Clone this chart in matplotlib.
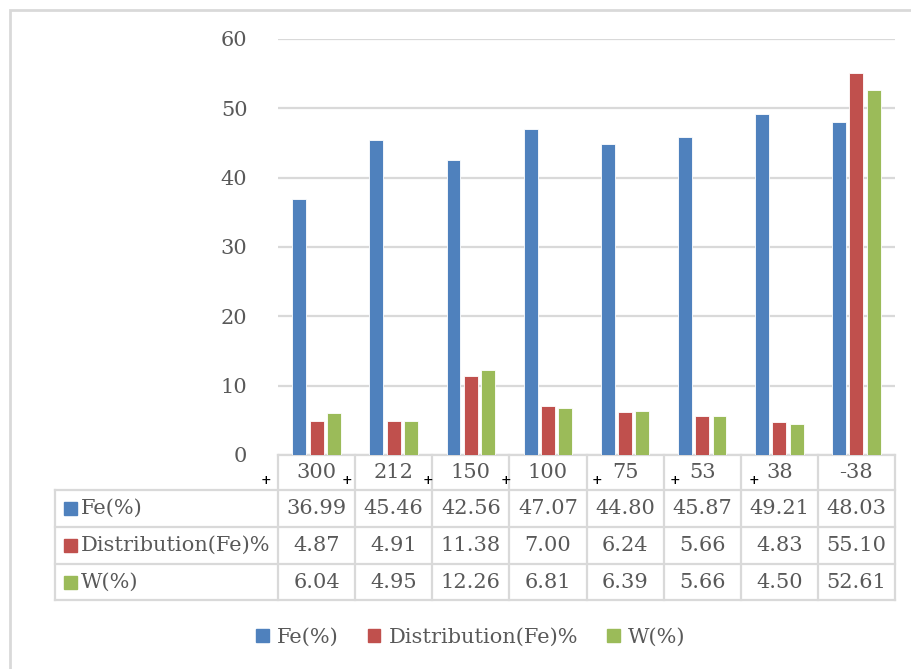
import matplotlib
matplotlib.use("Agg")
import matplotlib.pyplot as plt
from matplotlib.lines import Line2D
from matplotlib.patches import Patch, Rectangle
from matplotlib.transforms import blended_transform_factory
import numpy as np

# sieve fractions (um) and assay values
sizes = ["300", "212", "150", "100", "75", "53", "38", "-38"]
plus_sign = [True, True, True, True, True, True, True, False]
fe = [36.99, 45.46, 42.56, 47.07, 44.80, 45.87, 49.21, 48.03]
dist_fe = [4.87, 4.91, 11.38, 7.00, 6.24, 5.66, 4.83, 55.10]
w = [6.04, 4.95, 12.26, 6.81, 6.39, 5.66, 4.50, 52.61]

series_names = ["Fe(%)", "Distribution(Fe)%", "W(%)"]
series = [fe, dist_fe, w]
colors = ["#4F81BD", "#C0504D", "#9BBB59"]

# where the little "+" sits relative to each column centre
plus_dx = [-0.66, -0.61, -0.56, -0.54, -0.36, -0.35, -0.33, 0]

W, H = 912, 669
grey = "#D9D9D9"
txt = "#595959"
plt.rcParams["font.family"] = ["DejaVu Serif"]
fs = 15


def fx(px):
    return px / W


def fy(py):
    return 1 - py / H


fig = plt.figure(figsize=(W / 100, H / 100), dpi=100)
ax = fig.add_axes([fx(278), fy(455), fx(895 - 278), (455 - 39) / H])

x = np.arange(len(sizes))
bw = 0.18
pitch = 0.225
for k, (vals, c) in enumerate(zip(series, colors)):
    ax.bar(x + (k - 1) * pitch, vals, bw, color=c, edgecolor="white",
           linewidth=0.6, zorder=3)

ax.set_xlim(-0.5, len(sizes) - 0.5)
ax.set_ylim(0, 60)
ax.set_yticks(range(0, 61, 10))
ax.set_xticks([])
ax.yaxis.grid(True, color=grey, linewidth=1.6)
ax.set_axisbelow(True)
ax.tick_params(axis="y", length=0, pad=22, labelsize=fs, labelcolor=txt)
for s in ["top", "right", "left"]:
    ax.spines[s].set_visible(False)
ax.spines["bottom"].set_color(grey)
ax.spines["bottom"].set_linewidth(1.6)

# data table under the plot
tr = blended_transform_factory(ax.transData, fig.transFigure)
row_lines = [490, 527, 564, 600]
for py in row_lines:
    fig.add_artist(Line2D([fx(55), fx(895)], [fy(py), fy(py)], color=grey,
                          lw=1.6, transform=fig.transFigure))
for i in range(len(sizes) + 1):
    fig.add_artist(Line2D([i - 0.5, i - 0.5], [fy(455), fy(600)], color=grey,
                          lw=1.6, transform=tr))
fig.add_artist(Line2D([fx(55), fx(55)], [fy(490), fy(600)], color=grey,
                      lw=1.6, transform=fig.transFigure))

for i, s in enumerate(sizes):
    fig.text(i, fy(472), s, transform=tr, ha="center", va="center",
             fontsize=fs, color=txt)
    if plus_sign[i]:
        fig.text(i + plus_dx[i], fy(481), "+", transform=tr, ha="center",
                 va="center", fontsize=9, color="black", fontweight="bold")

row_centres = [508.5, 545.5, 582]
for r, (name, vals, c) in enumerate(zip(series_names, series, colors)):
    yc = fy(row_centres[r])
    for i, v in enumerate(vals):
        fig.text(i, yc, f"{v:.2f}", transform=tr, ha="center", va="center",
                 fontsize=fs, color=txt)
    fig.add_artist(Rectangle((fx(64), yc - 6.5 / H), 13 / W, 13 / H,
                             color=c, transform=fig.transFigure))
    fig.text(fx(81), yc, name, ha="left", va="center", fontsize=fs, color=txt)

handles = [Patch(color=c, label=n) for n, c in zip(series_names, colors)]
fig.legend(handles=handles, loc="center", bbox_to_anchor=(fx(471), fy(637)),
           ncol=3, frameon=False, fontsize=fs, labelcolor=txt,
           handlelength=0.6, handleheight=0.6, handletextpad=0.4,
           columnspacing=1.4)

# chart area outline (only top and left edges fall inside the image)
fig.add_artist(Rectangle((fx(10), fy(700)), fx(950), 690 / H, fill=False,
                         edgecolor=grey, lw=2, transform=fig.transFigure))

fig.savefig("out.png", dpi=100)
